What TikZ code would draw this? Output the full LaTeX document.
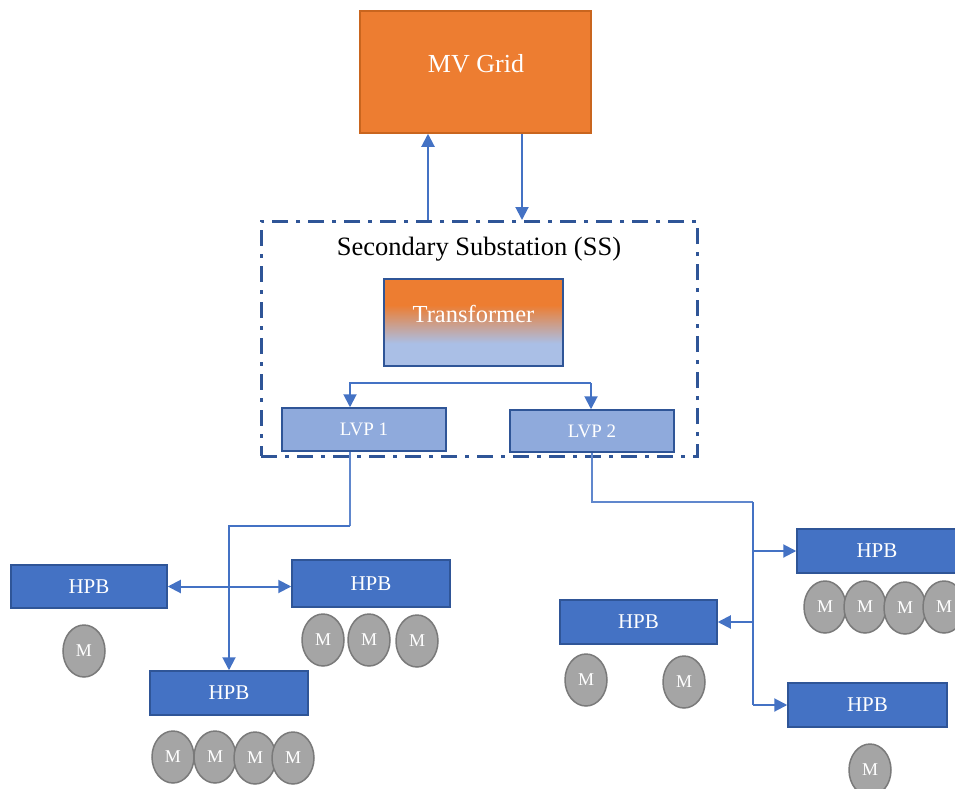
\documentclass[tikz,border=0pt]{standalone}
\usepackage{fontspec}
\setmainfont{Liberation Serif}
\usetikzlibrary{shapes.geometric,arrows.meta}

\definecolor{gridorange}{HTML}{ED7D31}
\definecolor{gridorangeedge}{HTML}{C9651E}
\definecolor{hpbblue}{HTML}{4472C4}
\definecolor{edgeblue}{HTML}{2F5597}
\definecolor{lvpblue}{HTML}{8FAADC}
\definecolor{tfblue}{HTML}{AABFE6}
\definecolor{motorgray}{HTML}{A5A5A5}
\definecolor{motoredge}{HTML}{7A7A7A}

\pgfdeclareverticalshading{tfshade}{100bp}{%
  color(0bp)=(tfblue); color(38bp)=(tfblue);
  color(60bp)=(gridorange); color(100bp)=(gridorange)}

\tikzset{
  box/.style={rectangle, inner sep=0pt, line width=1.5pt, text=white},
  hpbbox/.style={box, fill=hpbblue, draw=edgeblue, minimum height=44pt,
    font=\fontsize{21}{24}\selectfont},
  lvpbox/.style={box, fill=lvpblue, draw=edgeblue, minimum width=164pt,
    minimum height=42pt, font=\fontsize{19}{22}\selectfont},
  motor/.style={ellipse, inner sep=0pt, minimum width=42pt, minimum height=52pt,
    fill=motorgray, draw=motoredge, line width=1.5pt, text=white,
    font=\fontsize{18}{20}\selectfont},
  conn/.style={draw=hpbblue, line width=2pt},
  thinconn/.style={draw=hpbblue!85!white, line width=1.4pt},
  tip/.style={Triangle[width=13pt,length=13pt]},
  arr/.style={conn, -{Triangle[width=13pt,length=13pt]}},
  darr/.style={conn, {Triangle[width=13pt,length=13pt]}-{Triangle[width=13pt,length=13pt]}},
}

\begin{document}
\begin{tikzpicture}[x=1pt,y=-1pt]
\useasboundingbox (0,0) rectangle (955,789);
\clip (0,0) rectangle (955,789);

% medium-voltage grid
\node[box, fill=gridorange, draw=gridorangeedge, minimum width=231pt,
  minimum height=122pt] (mv) at (475.5,72) {};
\node[text=white, font=\fontsize{26}{30}\selectfont] (mvtext) at (476,64) {MV Grid};

% secondary substation enclosure
\node[rectangle, draw=edgeblue, line width=3pt,
  dash pattern=on 16pt off 8pt on 4pt off 8pt,
  minimum width=436pt, minimum height=235pt] (ss) at (479,338.5) {};
\node[font=\fontsize{26.5}{30}\selectfont] (sstitle) at (479,249)
  {Secondary Substation (SS)};

% transformer with orange-to-blue shading
\node[box, shading=tfshade, draw=edgeblue, minimum width=179pt,
  minimum height=87pt] (tf) at (473.5,322.5) {};
\node[text=white, font=\fontsize{24.5}{28}\selectfont] (tftext) at (473.5,314)
  {Transformer};

% low-voltage panels
\node[lvpbox, minimum height=43pt] (lvp1) at (364,429.5) {LVP 1};
\node[lvpbox] (lvp2) at (592,431) {LVP 2};

% house power boxes
\node[hpbbox, minimum width=156pt, minimum height=43pt] (hpbA) at (89,586.5) {HPB};
\node[hpbbox, minimum width=158pt, minimum height=47pt] (hpbB) at (371,583.5) {HPB};
\node[hpbbox, minimum width=158pt] (hpbC) at (229,693) {HPB};
\node[hpbbox, minimum width=160pt] (hpbD) at (877,551) {HPB};
\node[hpbbox, minimum width=157pt] (hpbE) at (638.5,622) {HPB};
\node[hpbbox, minimum width=159pt] (hpbF) at (867.5,705) {HPB};

% motors
\node[motor] (mA1) at (84,651) {M};
\node[motor] (mB1) at (323,640) {M};
\node[motor] (mB2) at (369,640) {M};
\node[motor] (mB3) at (417,641) {M};
\node[motor] (mC1) at (173,757) {M};
\node[motor] (mC2) at (215,757) {M};
\node[motor] (mC3) at (255,758) {M};
\node[motor] (mC4) at (293,758) {M};
\node[motor] (mD1) at (825,607) {M};
\node[motor] (mD2) at (865,607) {M};
\node[motor] (mD3) at (905,608) {M};
\node[motor] (mD4) at (944,607) {M};
\node[motor] (mE1) at (586,680) {M};
\node[motor] (mE2) at (684,682) {M};
\node[motor] (mF1) at (870,770) {M};

% grid <-> substation
\coordinate (up) at (428,220);
\coordinate (down) at (522,220);
\draw[arr] (up) -- (up |- mv.south);
\draw[arr] (down |- mv.south) -- (down);

% transformer bus to the panels
\coordinate (busL) at (350,383);
\coordinate (busR) at (591,383);
\draw[arr] (busR) -- (busL) -- (busL |- lvp1.north);
\draw[arr] (busR) -- (busR |- lvp2.north);

% feeder from LVP 1
\coordinate (f1) at (350,526);
\draw[thinconn] (f1 |- lvp1.south) -- (f1);
\draw[arr] (f1) -| (hpbC.north);
\draw[darr] (hpbA.east) -- (hpbA.east -| hpbB.west);

% feeder from LVP 2
\coordinate (f2) at (753,502);
\coordinate (f3) at (753,705);
\draw[thinconn] (lvp2.south) |- (f2);
\draw[conn] (f2) -- (f3);
\draw[arr] (f2 |- hpbD.west) -- (hpbD.west);
\draw[arr] (f2 |- hpbE.east) -- (hpbE.east);
\draw[arr] (f3) -- (hpbF.west);
\end{tikzpicture}
\end{document}
